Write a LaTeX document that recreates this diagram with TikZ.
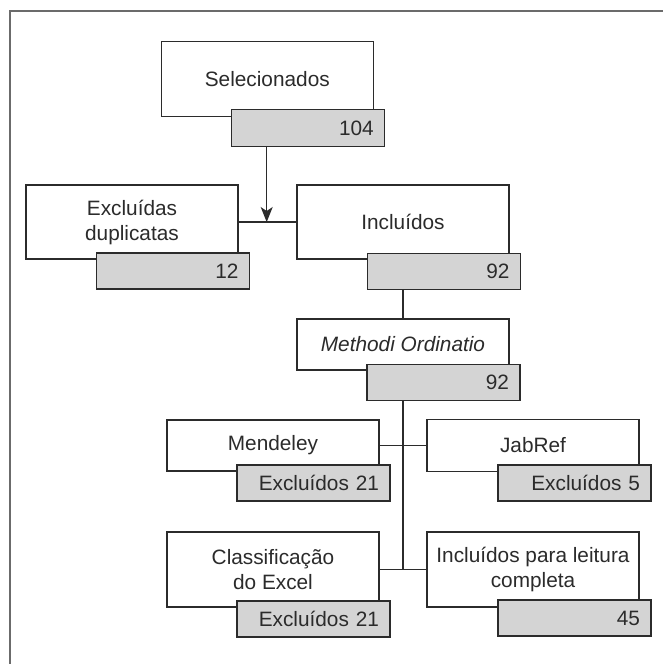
\documentclass[tikz,border=0pt]{standalone}
\usepackage{fontspec}
\setmainfont{Liberation Sans}
\usetikzlibrary{arrows.meta}
\definecolor{boxline}{HTML}{2B2B2B}
\definecolor{numfill}{HTML}{D4D4D4}
\definecolor{framecol}{HTML}{6B6B6B}
\begin{document}
\begin{tikzpicture}[x=1pt,y=-1pt,
  every node/.style={font=\fontsize{20.8}{25}\selectfont, text=boxline},
  whitebox/.style={draw=boxline, line width=1.1pt, fill=white, minimum width=212pt, inner sep=0pt, align=center, anchor=center},
  numbox/.style={draw=boxline, line width=1.1pt, fill=numfill, minimum height=36pt, text width=131pt, inner xsep=11pt, inner ysep=0pt, align=right, anchor=center},
  conn/.style={draw=boxline, line width=1.1pt},
  frameline/.style={draw=framecol, line width=2pt}
]
\useasboundingbox (0,0) rectangle (663,664);
\draw[frameline] (9.5,664) -- (9.5,11) -- (663,11);

\node[whitebox, minimum width=211.5pt, minimum height=74.5pt] (sel) at (267.3,79) {Selecionados};
\node[numbox, minimum height=37.5pt] (selN) at (308.3,128) {104};

\node[whitebox, minimum height=74pt] (exc) at (132,222) {Excluídas\\duplicatas};
\node[numbox] (excN) at (173,271) {12};

\node[whitebox, minimum height=74pt] (inc) at (403,222) {Incluídos};
\node[numbox] (incN) at (444,271.5) {92};

\node[whitebox, minimum height=51pt] (met) at (403,344.5) {\itshape Methodi Ordinatio};
\node[numbox] (metN) at (443.5,382.5) {92};

\node[whitebox, minimum height=51pt] (men) at (273,445.5) {Mendeley};
\node[numbox] (menN) at (313.5,483) {Excluídos 21};

\node[whitebox, minimum height=52pt] (jab) at (533,445.5) {JabRef};
\node[numbox] (jabN) at (574.5,483) {Excluídos 5};

\node[whitebox, minimum height=75pt] (cla) at (273,569.5) {Classificação\\do Excel};
\node[numbox] (claN) at (313.5,619) {Excluídos 21};

\node[whitebox, minimum height=75pt] (leit) at (533,569.5) {Incluídos para leitura\\completa};
\node[numbox] (leitN) at (574.5,618) {45};

\coordinate (j1) at (266.7,222);
\draw[conn, -{Stealth[length=15pt,width=12pt,inset=4pt]}] (j1 |- selN.south) -- (j1);
\draw[conn] (exc.east) -- (inc.west);
\draw[conn] (met.north |- incN.south) -- (met.north);
\draw[conn] (met.south |- metN.south) -- (met.south |- cla.east);
\draw[conn] (men.east) -- (jab.west);
\draw[conn] (cla.east) -- (leit.west);
\end{tikzpicture}
\end{document}
